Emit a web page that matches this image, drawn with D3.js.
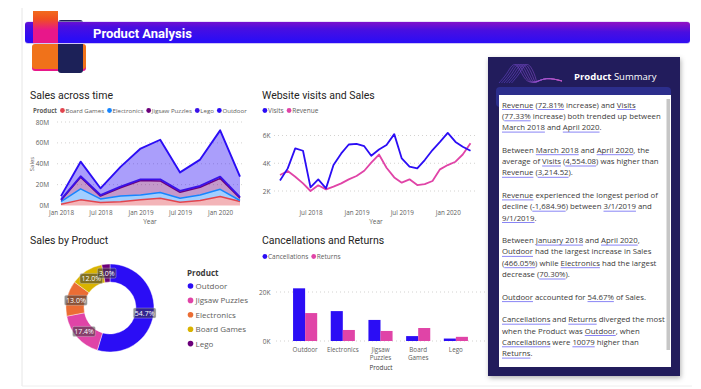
<!DOCTYPE html>
<html>
<head>
<meta charset="utf-8">
<script src="https://cdn.jsdelivr.net/npm/d3@7"></script>
<style>
body { margin: 0; background: #ffffff; }
svg { display: block; }
</style>
</head>
<body>
<div id="dashboard"></div>
<script>
// ---------- data ----------
const quarterDates = ["2018-01-01","2018-04-01","2018-07-01","2018-10-01","2019-01-01","2019-04-01","2019-07-01","2019-10-01","2020-01-01","2020-04-01"]
const areaProducts = ["Board Games","Electronics","Jigsaw Puzzles","Lego","Outdoor"]
const salesBoardGames = [1.3, 5.4, 2.9, 3.5, 5.4, 7.0, 3.2, 4.8, 8.6, 3.8]
const salesElectronics = [2.5, 10.6, 3.4, 5.5, 4.6, 5.4, 3.8, 5.2, 6.9, 1.0]
const salesJigsaw = [1.3, 11.0, 2.7, 8.0, 14.0, 11.1, 5.7, 7.5, 10.5, 2.2]
const salesLego = [0.5, 1.0, 1.0, 1.0, 1.0, 1.5, 1.3, 1.2, 1.6, 1.0]
const salesOutdoor = [3.4, 14.0, 6.5, 19.0, 29.6, 38.0, 17.7, 25.3, 44.4, 19.6]
const salesTicks = [0, 20, 40, 60, 80]
const salesDateTicks = ["2018-01-01","2018-07-01","2019-01-01","2019-07-01","2020-01-01"]

const visitMonths = ["2018-03","2018-04","2018-05","2018-06","2018-07","2018-08","2018-09","2018-10","2018-11","2018-12",
  "2019-01","2019-02","2019-03","2019-04","2019-05","2019-06","2019-07","2019-08","2019-09","2019-10","2019-11","2019-12",
  "2020-01","2020-02","2020-03","2020-04"]
const visits = [2.76, 3.63, 5.07, 4.90, 2.26, 2.84, 2.19, 3.87, 4.71, 5.35, 5.40, 5.23, 4.54, 4.99, 5.31, 6.10,
  4.35, 3.75, 3.63, 4.23, 4.95, 5.54, 6.19, 5.54, 5.19, 4.90]
const revenue = [3.15, 3.44, 3.03, 2.55, 2.00, 2.41, 2.12, 2.31, 2.55, 2.84, 3.08, 3.46, 4.04, 4.63, 3.68, 2.98,
  2.60, 2.84, 2.43, 2.50, 2.72, 3.56, 3.87, 4.11, 4.63, 5.44]
const visitTicks = [2, 4, 6]
const visitDateTicks = ["2018-07","2019-01","2019-07","2020-01"]

const donutProducts = ["Outdoor","Jigsaw Puzzles","Electronics","Board Games","Lego"]
const donutShare = [54.7, 17.4, 13.0, 12.0, 3.0]
const donutColors = ["#2B0DF5","#E044A7","#EB6D34","#D9B300","#6B007B"]

const barProducts = ["Outdoor","Electronics","Jigsaw Puzzles","Board Games","Lego"]
const cancellations = [21.5, 12.2, 8.6, 2.0, 1.0]
const returns = [11.4, 4.5, 4.1, 5.3, 1.7]
const barTicks = [0, 20]

const summaryLines = [
  "[Revenue] ([72.81%] increase) and [Visits]",
  "([77.33%] increase) both trended up between",
  "[March 2018] and [April 2020].",
  "",
  "Between [March 2018] and [April 2020], the",
  "average of [Visits] ([4,554.08]) was higher than",
  "[Revenue] ([3,214.52]).",
  "",
  "[Revenue] experienced the longest period of",
  "decline ([-1,684.96]) between [3/1/2019] and",
  "[9/1/2019].",
  "",
  "Between [January 2018] and [April 2020],",
  "[Outdoor] had the largest increase in Sales",
  "([466.05%]) while [Electronics] had the largest",
  "decrease ([70.30%]).",
  "",
  "[Outdoor] accounted for [54.67%] of Sales.",
  "",
  "[Cancellations] and [Returns] diverged the most",
  "when the Product was [Outdoor], when",
  "[Cancellations] were [10079] higher than",
  "[Returns]."
]

// ---------- styles ----------
const blue = "#2B0DF5"
const pink = "#E044A7"
const titleFont = "Roboto, 'DejaVu Sans', sans-serif"
const labelFont = "'Open Sans', 'Noto Sans', sans-serif"
const titleColor = "#252423"
const axisColor = "#605E5C"
const gridColor = "#C8C6C4"
const areaColors = {"Board Games":"#E2444E","Electronics":"#1685FF","Jigsaw Puzzles":"#6B007B","Lego":"#3A12E8","Outdoor":"#2B0DF5"}

const svg = d3.select("#dashboard")
  .append("svg")
  .attr("width", 701)
  .attr("height", 389)

const defs = svg.append("defs")

const barGrad = defs.append("linearGradient").attr("id", "barGrad")
  .attr("x1", 0.7).attr("y1", 1).attr("x2", 1).attr("y2", 0)
barGrad.append("stop").attr("offset", 0).attr("stop-color", blue)
barGrad.append("stop").attr("offset", 0.55).attr("stop-color", "#4A0EE0")
barGrad.append("stop").attr("offset", 1).attr("stop-color", "#9511C2")

const logoGrad = defs.append("linearGradient").attr("id", "logoGrad")
  .attr("x1", 0).attr("y1", 0).attr("x2", 0).attr("y2", 1)
logoGrad.append("stop").attr("offset", 0).attr("stop-color", "#F26B1D")
logoGrad.append("stop").attr("offset", 0.25).attr("stop-color", "#F0501F")
logoGrad.append("stop").attr("offset", 0.6).attr("stop-color", "#E8178A")
logoGrad.append("stop").attr("offset", 1).attr("stop-color", "#E8178A")

const waveGrad = defs.append("linearGradient").attr("id", "waveGrad")
waveGrad.append("stop").attr("offset", 0).attr("stop-color", "#6A4BE0")
waveGrad.append("stop").attr("offset", 1).attr("stop-color", "#C457C8")

const shadow = defs.append("filter").attr("id", "shadow")
  .attr("x", -0.1).attr("y", -0.1).attr("width", 1.2).attr("height", 1.2)
shadow.append("feDropShadow").attr("dx", 1).attr("dy", 2).attr("stdDeviation", 2.5)
  .attr("flood-color", "#000").attr("flood-opacity", 0.3)

// canvas border
svg.append("line").attr("x1", 22).attr("y1", 8).attr("x2", 22).attr("y2", 386)
  .attr("stroke", "#E6E6E6").attr("stroke-width", 1)
svg.append("line").attr("x1", 22).attr("y1", 386).attr("x2", 692).attr("y2", 386)
  .attr("stroke", "#EEEEEE").attr("stroke-width", 1)

// ---------- header ----------
svg.append("rect").attr("x", 32).attr("y", 46).attr("width", 54).attr("height", 25).attr("rx", 3).attr("fill", "#E8178A")
svg.append("rect").attr("x", 32).attr("y", 44).attr("width", 54).attr("height", 25).attr("rx", 3).attr("fill", "#F0721A")
svg.append("rect").attr("x", 58).attr("y", 20).attr("width", 25).attr("height", 53).attr("rx", 3).attr("fill", "#1C2158")
svg.append("rect").attr("x", 25).attr("y", 21.5).attr("width", 665).attr("height", 22.5).attr("rx", 3).attr("fill", "#CFC6F7")
svg.append("rect").attr("x", 25).attr("y", 22).attr("width", 665).attr("height", 21).attr("rx", 3).attr("fill", "url(#barGrad)")
svg.append("rect").attr("x", 33).attr("y", 11).attr("width", 25).attr("height", 32).attr("fill", "url(#logoGrad)")
svg.append("text").attr("x", 93).attr("y", 37.5)
  .attr("font-family", titleFont).attr("font-weight", "bold").attr("font-size", 13)
  .attr("fill", "#ffffff").text("Product Analysis")

function chartTitle(x, y, label){
  svg.append("text").attr("x", x).attr("y", y)
    .attr("font-family", titleFont).attr("font-size", 10.5)
    .attr("fill", titleColor).text(label)
}

function legendRow(x, y, heading, names, colors, size){
  let pos = x
  if (heading){
    const h = svg.append("text").attr("x", pos).attr("y", y + size*0.35)
      .attr("font-family", labelFont).attr("font-weight", "bold").attr("font-size", size)
      .attr("fill", axisColor).text(heading)
    pos += h.node().getComputedTextLength() + 3
  }
  names.forEach(function(n, i){
    svg.append("circle").attr("cx", pos + 2.4).attr("cy", y).attr("r", 2.4).attr("fill", colors[i])
    const t = svg.append("text").attr("x", pos + 5.5).attr("y", y + size*0.35)
      .attr("font-family", labelFont).attr("font-size", size)
      .attr("fill", axisColor).text(n)
    pos += 5.5 + t.node().getComputedTextLength() + 3
  })
}

function styleAxis(g, size){
  g.select(".domain").remove()
  g.selectAll("text").attr("font-family", labelFont).attr("font-size", size).attr("fill", axisColor)
}

function grid(y, ticks, x1, x2){
  svg.append("g").selectAll("line").data(ticks).join("line")
    .attr("x1", x1).attr("x2", x2)
    .attr("y1", d => y(d)).attr("y2", d => y(d))
    .attr("stroke", gridColor).attr("stroke-width", 0.8)
    .attr("stroke-dasharray", "1,3")
}

// ---------- Sales across time ----------
chartTitle(30, 99, "Sales across time")
legendRow(33, 110.5, "Product", areaProducts, areaProducts.map(p => areaColors[p]), 6.1)

const parseDay = d3.timeParse("%Y-%m-%d")
const salesRows = quarterDates.map(function(d, i){
  return {date: parseDay(d), "Board Games": salesBoardGames[i], "Electronics": salesElectronics[i],
    "Jigsaw Puzzles": salesJigsaw[i], "Lego": salesLego[i], "Outdoor": salesOutdoor[i]}
})
const salesX = d3.scaleTime().domain(d3.extent(salesRows, d => d.date)).range([61, 240])
const salesY = d3.scaleLinear().domain([0, 80]).range([205.5, 122])
grid(salesY, salesTicks.slice(1), 57, 245)

const stacked = d3.stack().keys(areaProducts)(salesRows)
const salesArea = d3.area().x(d => salesX(d.data.date)).y0(d => salesY(d[0])).y1(d => salesY(d[1]))
const salesLine = d3.line().x(d => salesX(d.data.date)).y(d => salesY(d[1]))
svg.append("g").selectAll("path").data(stacked).join("path")
  .attr("d", salesArea).attr("fill", d => areaColors[d.key]).attr("fill-opacity", 0.4)
svg.append("g").selectAll("path").data(stacked).join("path")
  .attr("d", salesLine).attr("fill", "none").attr("stroke", d => areaColors[d.key])
  .attr("stroke-width", d => d.key == "Outdoor" || d.key == "Lego" ? 1.9 : 1.5).attr("stroke-linejoin", "round")

svg.append("g").attr("transform", "translate(49,0)")
  .call(d3.axisLeft(salesY).tickValues(salesTicks).tickFormat(d => d + "M").tickSize(0).tickPadding(0))
  .call(g => styleAxis(g, 6.5))
svg.append("g").attr("transform", "translate(0,210.5)")
  .call(d3.axisBottom(salesX).tickValues(salesDateTicks.map(parseDay)).tickFormat(d3.timeFormat("%b %Y")).tickSize(0).tickPadding(0))
  .call(g => styleAxis(g, 6.3))
svg.append("text").attr("x", 150).attr("y", 224).attr("text-anchor", "middle")
  .attr("font-family", labelFont).attr("font-size", 6.5).attr("fill", axisColor).text("Year")
svg.append("text").attr("transform", "translate(34,164) rotate(-90)").attr("text-anchor", "middle")
  .attr("font-family", labelFont).attr("font-size", 6).attr("fill", axisColor).text("Sales")

// ---------- Website visits and Sales ----------
chartTitle(262, 99, "Website visits and Sales")
legendRow(262.5, 110.5, null, ["Visits","Revenue"], [blue, pink], 6.5)

const parseMonth = d3.timeParse("%Y-%m")
const visitX = d3.scaleTime().domain(d3.extent(visitMonths, parseMonth)).range([280, 470.5])
const visitY = d3.scaleLinear().domain([2, 6]).range([191, 135.5])
grid(visitY, visitTicks, 274, 476)
const visitLine = d3.line().x((d, i) => visitX(parseMonth(visitMonths[i]))).y(d => visitY(d))
svg.append("path").attr("d", visitLine(revenue)).attr("fill", "none").attr("stroke", pink)
  .attr("stroke-width", 1.8).attr("stroke-linejoin", "round")
svg.append("path").attr("d", visitLine(visits)).attr("fill", "none").attr("stroke", blue)
  .attr("stroke-width", 1.8).attr("stroke-linejoin", "round")
svg.append("g").attr("transform", "translate(270.5,0)")
  .call(d3.axisLeft(visitY).tickValues(visitTicks).tickFormat(d => d + "K").tickSize(0).tickPadding(0))
  .call(g => styleAxis(g, 6.5))
svg.append("g").attr("transform", "translate(0,210.5)")
  .call(d3.axisBottom(visitX).tickValues(visitDateTicks.map(parseMonth)).tickFormat(d3.timeFormat("%b %Y")).tickSize(0).tickPadding(0))
  .call(g => styleAxis(g, 6.3))
svg.append("text").attr("x", 376).attr("y", 224).attr("text-anchor", "middle")
  .attr("font-family", labelFont).attr("font-size", 6.5).attr("fill", axisColor).text("Year")

// ---------- Sales by Product ----------
chartTitle(30, 244, "Sales by Product")
const pie = d3.pie().sort(null).value(d => d)(donutShare)
const donutArc = d3.arc().innerRadius(26).outerRadius(44)
const labelArc = d3.arc().innerRadius(35).outerRadius(35)
const donut = svg.append("g").attr("transform", "translate(110,308)")
donut.selectAll("path").data(pie).join("path")
  .attr("d", donutArc).attr("fill", (d, i) => donutColors[i])
  .attr("stroke", "#ffffff").attr("stroke-width", 0.4)
const donutLabels = donut.selectAll("g.lbl").data(pie).join("g").attr("class", "lbl")
  .attr("transform", d => "translate(" + labelArc.centroid(d) + ")")
donutLabels.each(function(d, i){
  const g = d3.select(this)
  const t = g.append("text").attr("text-anchor", "middle").attr("y", 2.5)
    .attr("font-family", labelFont).attr("font-size", 7).attr("fill", "#ffffff")
    .text(donutShare[i].toFixed(1) + "%")
  const w = t.node().getComputedTextLength() + 3
  g.insert("rect", "text").attr("x", -w/2).attr("y", -5).attr("width", w).attr("height", 10)
    .attr("rx", 1.5).attr("fill", "#3A3A3A").attr("fill-opacity", 0.55)
    .attr("stroke", "#D8D8D8").attr("stroke-opacity", 0.6).attr("stroke-width", 0.6)
})
svg.append("text").attr("x", 187).attr("y", 276)
  .attr("font-family", labelFont).attr("font-weight", "bold").attr("font-size", 8)
  .attr("fill", "#3B3A39").text("Product")
donutProducts.forEach(function(n, i){
  svg.append("circle").attr("cx", 190.5).attr("cy", 286 + i*14.4).attr("r", 2.8).attr("fill", donutColors[i])
  svg.append("text").attr("x", 195.5).attr("y", 289 + i*14.4)
    .attr("font-family", labelFont).attr("font-size", 8).attr("fill", axisColor).text(n)
})

// ---------- Cancellations and Returns ----------
chartTitle(262, 244, "Cancellations and Returns")
legendRow(262.5, 256.5, null, ["Cancellations","Returns"], [blue, pink], 6.5)
const barX = d3.scaleBand().domain(barProducts).range([281, 480]).paddingInner(0.36).paddingOuter(0.32)
const barSub = d3.scaleBand().domain(["Cancellations","Returns"]).range([0, barX.bandwidth()])
const barY = d3.scaleLinear().domain([0, 20]).range([341, 292])
grid(barY, barTicks, 276, 486)
const barGroups = svg.append("g").selectAll("g").data(barProducts).join("g")
  .attr("transform", d => "translate(" + barX(d) + ",0)")
barGroups.append("rect").attr("x", barSub("Cancellations")).attr("width", barSub.bandwidth())
  .attr("y", (d, i) => barY(cancellations[i])).attr("height", (d, i) => barY(0) - barY(cancellations[i]))
  .attr("fill", blue)
barGroups.append("rect").attr("x", barSub("Returns")).attr("width", barSub.bandwidth())
  .attr("y", (d, i) => barY(returns[i])).attr("height", (d, i) => barY(0) - barY(returns[i]))
  .attr("fill", pink)
svg.append("g").attr("transform", "translate(270.5,0)")
  .call(d3.axisLeft(barY).tickValues(barTicks).tickFormat(d => d + "K").tickSize(0).tickPadding(0))
  .call(g => styleAxis(g, 6.5))
const barAxis = svg.append("g").attr("transform", "translate(0,348)")
  .call(d3.axisBottom(barX).tickSize(0).tickPadding(0))
  .call(g => styleAxis(g, 6.3))
barAxis.selectAll(".tick text").each(function(d){
  const words = d.split(" ")
  const t = d3.select(this).text(null)
  words.forEach(function(w, i){
    t.append("tspan").attr("x", 0).attr("dy", i == 0 ? "0.71em" : "1.2em").text(w)
  })
})
svg.append("text").attr("x", 381).attr("y", 369.5).attr("text-anchor", "middle")
  .attr("font-family", labelFont).attr("font-size", 6.3).attr("fill", "#3B3A39").text("Product")

// ---------- Product Summary ----------
svg.append("rect").attr("x", 488).attr("y", 57).attr("width", 192).attr("height", 319)
  .attr("fill", "#201D5C").attr("filter", "url(#shadow)")
svg.append("rect").attr("x", 496).attr("y", 87).attr("width", 175).attr("height", 20)
  .attr("rx", 4).attr("fill", "#2C2E8C")
svg.append("rect").attr("x", 499).attr("y", 95).attr("width", 172).attr("height", 272)
  .attr("fill", "#ffffff")
svg.append("rect").attr("x", 666.5).attr("y", 99).attr("width", 3.5).attr("height", 251)
  .attr("fill", "#C6C6C6")

const wave = d3.line().curve(d3.curveBasis)
for (let i = 0; i < 6; i++){
  svg.append("path")
    .attr("d", wave([[499 + i*2.5, 83], [507 + i*2.5, 74], [512 + i*2.5, 64], [518 + i*2.5, 64], [525 + i*2.5, 82], [535, 83], [546, 77], [562, 81]]))
    .attr("fill", "none").attr("stroke", "url(#waveGrad)").attr("stroke-width", 0.6).attr("opacity", 0.85)
}
const sumTitle = svg.append("text").attr("x", 574).attr("y", 80)
  .attr("font-family", labelFont).attr("font-size", 9.5).attr("fill", "#ffffff")
sumTitle.append("tspan").attr("font-weight", "bold").text("Product")
sumTitle.append("tspan").text(" Summary")

// narrative text with underlined references
const narrSize = 7.8
summaryLines.forEach(function(line, k){
  if (line == "") return
  const parts = line.split(/(\[[^\]]*\])/).filter(p => p != "")
  const y = 107.5 + 11.3*k
  const t = svg.append("text").attr("x", 502).attr("y", y)
    .attr("font-family", labelFont).attr("font-size", narrSize).attr("fill", "#3B3A39")
    .style("white-space", "pre")
  const marks = []
  let offset = 0
  parts.forEach(function(p){
    const under = p[0] == "["
    const s = under ? p.slice(1, -1) : p
    t.append("tspan").text(s)
    if (under) marks.push([offset, s.length])
    offset += s.length
  })
  marks.forEach(function(m){
    const x0 = 502 + (m[0] > 0 ? t.node().getSubStringLength(0, m[0]) : 0)
    const w = t.node().getSubStringLength(m[0], m[1])
    svg.append("line").attr("x1", x0).attr("x2", x0 + w).attr("y1", y + 2).attr("y2", y + 2)
      .attr("stroke", "#6B66F2").attr("stroke-width", 0.8)
  })
})
</script>
</body>
</html>
